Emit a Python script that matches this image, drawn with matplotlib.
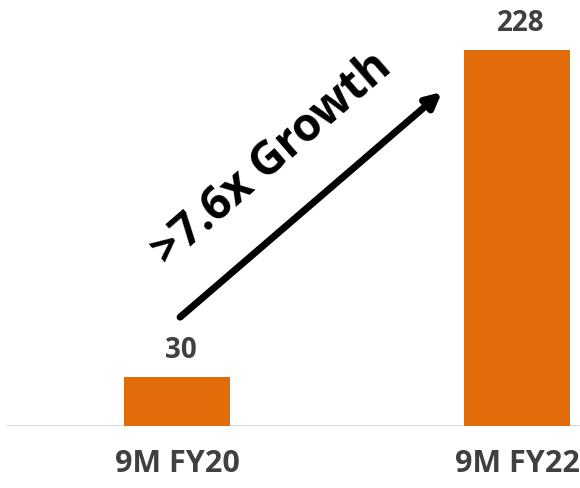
import matplotlib.pyplot as plt

# periods and values
periods = ['9M FY20', '9M FY22']
values = [30, 228]
growth_label = '>7.6x Growth'

bar_color = '#E36C0A'
text_color = '#404040'

plt.rcParams['font.family'] = ['Open Sans', 'DejaVu Sans']

fig = plt.figure(figsize=(5.8, 4.88), dpi=100)
ax = fig.add_axes([0.012, 0.127, 0.988, 0.873])

x = list(range(len(periods)))
ax.bar(x, values, width=0.312, color=bar_color, zorder=2)

# value labels above the bars
for xi, v in zip(x, values):
    ax.text(xi + 0.01, v + 7, str(v), ha='center', va='bottom',
            fontsize=20, fontweight='bold', color=text_color)

ax.set_xlim(-0.5, 1.185)
ax.set_ylim(0, 258.3)

# baseline
ax.axhline(0, color='#d9d9d9', linewidth=1.5, zorder=1)

# growth arrow and label
ax.annotate('', xy=(0.779, 202.5), xytext=(0.009, 66),
            arrowprops=dict(arrowstyle='-|>,head_length=0.9,head_width=0.45',
                            color='black', lw=5, shrinkA=0, shrinkB=0))
ax.text(0.28, 162, growth_label, rotation=41, rotation_mode='anchor',
        ha='center', va='center', fontsize=33, fontweight='bold', color='black')

# category labels under the axis
for xi, lab in zip(x, periods):
    ax.text(xi, -0.09, lab, transform=ax.get_xaxis_transform(),
            ha='center', va='center', fontsize=22, fontweight='bold',
            color=text_color)

ax.set_xticks([])
ax.set_yticks([])
for s in ax.spines.values():
    s.set_visible(False)

fig.savefig('out.png', dpi=100)
